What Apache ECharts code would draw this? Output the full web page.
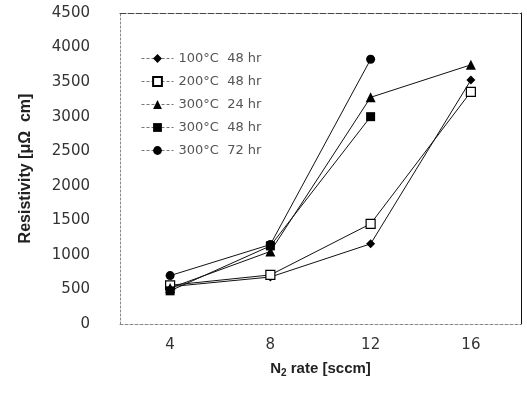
<!DOCTYPE html>
<html>
<head>
<meta charset="utf-8">
<title>Resistivity vs N2 rate</title>
<style>
    html, body { margin: 0; padding: 0; background: #fff; }
    #chart { width: 527px; height: 393px; }
</style>
</head>
<body>
<div id="chart"></div>
<script src="https://cdn.jsdelivr.net/npm/echarts@6/dist/echarts.min.js"></script>
<script>
    // N2 rate, sccm
    const rates = ['4', '8', '12', '16'];
    const yTicks = [0, 500, 1000, 1500, 2000, 2500, 3000, 3500, 4000, 4500];

    // resistivity, uOhm cm
    const t100h48 = [540, 680, 1160, 3530];
    const t200h48 = [560, 710, 1450, 3360];
    const t300h24 = [520, 1050, 3280, 3750];
    const t300h48 = [480, 1130, 3000, null];
    const t300h72 = [700, 1150, 3830, null];

    const legendNames = ['100°C  48 hr', '200°C  48 hr', '300°C  24 hr', '300°C  48 hr', '300°C  72 hr'];

    let myChart = echarts.init(document.getElementById('chart'));

    function makeSeries(name, data, symbol, size, hollow) {
        return {
            name: name,
            type: 'line',
            data: data,
            symbol: symbol,
            symbolSize: size,
            showSymbol: true,
            connectNulls: false,
            lineStyle: { color: '#111', width: 1 },
            itemStyle: {
                color: hollow ? '#fff' : '#000',
                borderColor: '#000',
                borderWidth: hollow ? 1.2 : 0
            },
            emphasis: { disabled: true },
            animation: false
        };
    }

    let option = {
        backgroundColor: '#fff',
        grid: { left: 120, right: 6, top: 13, bottom: 69 },
        legend: {
            orient: 'vertical',
            left: 136,
            top: 47,
            itemWidth: 32,
            itemHeight: 11,
            itemGap: 10,
            data: legendNames,
            lineStyle: { color: '#777', width: 1, type: [3, 2] },
            textStyle: { fontFamily: 'DejaVu Sans', fontSize: 13, color: '#555' }
        },
        xAxis: [{
            type: 'category',
            data: rates,
            boundaryGap: true,
            axisLine: { show: true, lineStyle: { color: '#888', type: [3, 2] } },
            axisTick: { show: false },
            axisLabel: { fontFamily: 'DejaVu Sans', fontSize: 15, color: '#333', margin: 14 },
            splitLine: { show: false },
            name: 'N{sub|2} rate [sccm]',
            nameLocation: 'middle',
            nameGap: 36,
            nameTextStyle: {
                fontFamily: 'Liberation Sans', fontWeight: 'bold', fontSize: 15, color: '#222',
                rich: { sub: { fontFamily: 'Liberation Sans', fontWeight: 'bold', fontSize: 10, color: '#222', verticalAlign: 'bottom', padding: [8, 0, 0, 0] } }
            }
        }, {
            type: 'category',
            data: rates,
            position: 'top',
            axisLine: { show: true, onZero: false, lineStyle: { color: '#444', type: [6, 2] } },
            axisTick: { show: false },
            axisLabel: { show: false }
        }],
        yAxis: [{
            type: 'value',
            min: 0,
            max: 4500,
            interval: 500,
            axisLine: { show: true, onZero: false, lineStyle: { color: '#888', type: [2, 2] } },
            axisTick: { show: false },
            splitLine: { show: false },
            axisLabel: {
                fontFamily: 'DejaVu Sans', fontSize: 15, color: '#333', margin: 30,
                formatter: function (v) { return yTicks.indexOf(v) >= 0 ? String(v) : ''; }
            },
            name: 'Resistivity [μΩ  cm]',
            nameLocation: 'middle',
            nameGap: 86,
            nameTextStyle: { fontFamily: 'Liberation Sans', fontWeight: 'bold', fontSize: 16, color: '#222' }
        }, {
            type: 'value',
            min: 0,
            max: 4500,
            interval: 500,
            position: 'right',
            axisLine: { show: true, onZero: false, lineStyle: { color: '#111', width: 1 } },
            axisTick: { show: false },
            axisLabel: { show: false },
            splitLine: { show: false }
        }],
        series: [
            makeSeries(legendNames[0], t100h48, 'diamond', 9, false),
            makeSeries(legendNames[1], t200h48, 'rect', 9, true),
            makeSeries(legendNames[2], t300h24, 'triangle', 10, false),
            makeSeries(legendNames[3], t300h48, 'rect', 9, false),
            makeSeries(legendNames[4], t300h72, 'circle', 9, false)
        ]
    };
    myChart.setOption(option);
</script>
</body>
</html>
